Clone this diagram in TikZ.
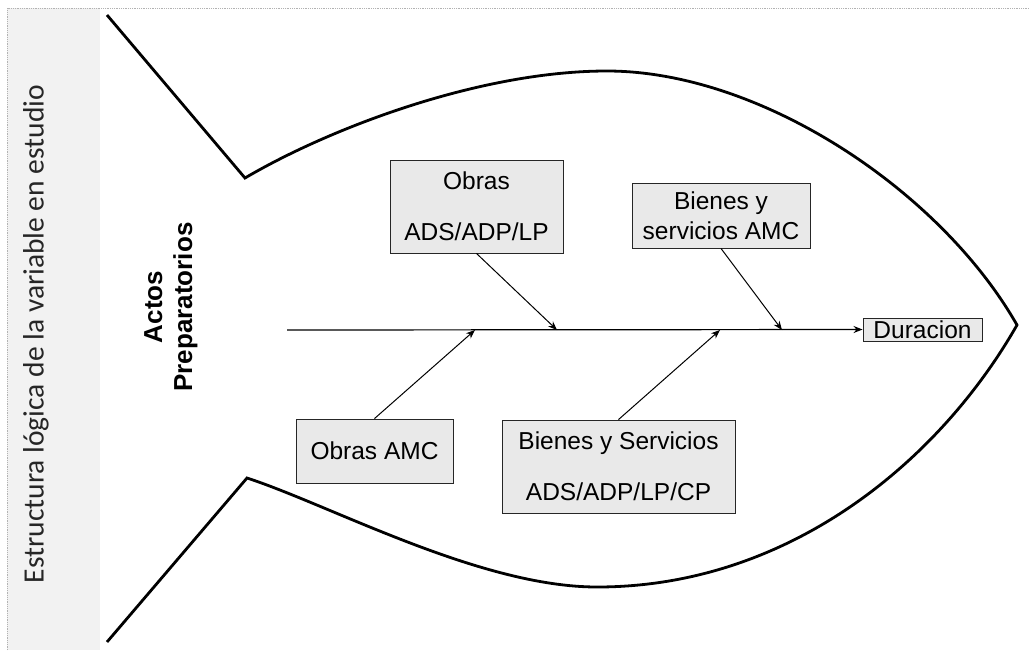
\documentclass[tikz,border=0pt]{standalone}
\usepackage{fontspec}
\setmainfont{Liberation Sans}
\newfontfamily\calib{Carlito}
\usetikzlibrary{arrows.meta,calc}
\begin{document}
\begin{tikzpicture}[x=1pt,y=-1pt,
  fishline/.style={line width=2.8pt, line join=miter, miter limit=20},
  causebox/.style={draw=black!85, line width=0.9pt, fill=gray!17, inner sep=0pt, align=center, font=\fontsize{24.5}{51}\selectfont},
  bone/.style={line width=1pt, -{Stealth[length=9pt,width=7pt]}},
]
\useasboundingbox (0,0) rectangle (1030,657);
\fill[white] (0,0) rectangle (1030,657);
% left band
\fill[gray!10] (7,8) rectangle (100,650);
\draw[gray!60, densely dotted, line width=0.8pt] (7,650) -- (7,8) -- (1030,8);
\node[rotate=90, font=\calib, text=black!85, inner sep=0pt] (band) at (36,334) {\resizebox{498pt}{!}{Estructura lógica de la variable en estudio}};
% fish outline
\draw[fishline] (107,15) -- (245,178)
  .. controls (330,128) and (480,71) .. (607,71)
  .. controls (760,71) and (940,190) .. (1017,325)
  .. controls (940,460) and (790,587) .. (597,587)
  .. controls (480,587) and (330,505) .. (247,478)
  -- (107,642);
% title
\node[rotate=90, font=\bfseries\fontsize{26}{30}\selectfont, align=center] (actos) at (171,307) {Actos\\Preparatorios};
% spine
\coordinate (s0) at (287,330);
\node[causebox, minimum width=119pt, minimum height=23pt, font=\fontsize{24.5}{26}\selectfont] (dur) at (922.5,329.5) {Duracion};
\draw[bone, line width=1.2pt] (s0) -- (dur.west);
% cause boxes
\node[causebox, minimum width=173pt, minimum height=93pt] (b1) at (476.5,206.5) {Obras\\ADS/ADP/LP};
\node[causebox, minimum width=178pt, minimum height=65pt, font=\fontsize{24.5}{30}\selectfont] (b2) at (721,215.5) {Bienes y\\servicios AMC};
\node[causebox, minimum width=157pt, minimum height=64pt] (b3) at (374.5,451) {\raisebox{-6pt}{Obras AMC}};
\node[causebox, minimum width=233pt, minimum height=93pt] (b4) at (618.5,466.5) {Bienes y Servicios\\ADS/ADP/LP/CP};
% junctions on spine
\coordinate (j1) at (557,330);
\coordinate (j2) at (782,330);
\coordinate (j3) at (475,330);
\coordinate (j4) at (720,330);
\draw[bone] (b1.south) -- (j1);
\draw[bone] (b2.south) -- (j2);
\draw[bone] (b3.north) -- (j3);
\draw[bone] (b4.north) -- (j4);
\end{tikzpicture}
\end{document}
